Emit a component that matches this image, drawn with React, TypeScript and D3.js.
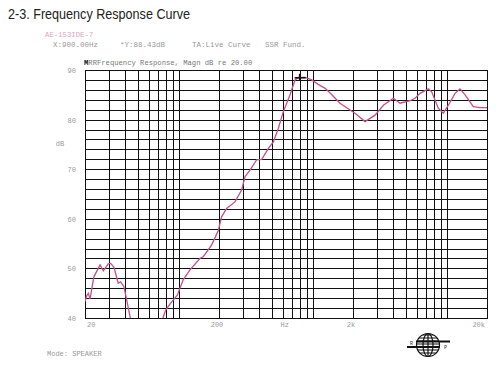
import React from 'react';
import * as d3 from 'd3';

const freqs = [20, 20.6, 21.2, 21.8, 23.3, 25.9, 27.4, 29.8, 31.1, 32.9, 35.4, 36.9, 39.1, 43.9, 52,
  64, 75.5, 80, 87.2, 97.7, 108, 121.5, 144, 153, 176, 198, 209, 228, 263, 295, 313, 341, 382, 417, 467,
  509, 554, 604, 678, 739, 782, 877, 984, 1100, 1240, 1390, 1600, 1795, 2070, 2460, 2920, 3370, 4000,
  4490, 5330, 5810, 6330, 7300, 7730, 8660, 9440, 10300, 11550, 12580, 13720, 15810, 17740, 20000];
const levels = [43.3, 44.5, 45, 43.8, 48.3, 50.7, 49.5, 50.9, 51, 50.2, 47, 47.3, 46.3, 39.6, 36,
  36, 39.6, 41.6, 43, 44.6, 47.7, 49.7, 52, 52.4, 54.7, 57.7, 60.4, 62.1, 63.4, 65.8, 68.5, 69.8, 71.9, 72, 74.2,
  75.5, 78.2, 81.6, 85, 88, 88.5, 88.5, 88, 87.1, 86.3, 85, 83.3, 82.4, 81.3, 79.6, 80.9, 82.9, 84.3,
  83.3, 83.8, 84.3, 85.3, 86.2, 85.6, 82.3, 81.3, 82.9, 85.3, 86.2, 85, 82.6, 82.4, 82.4];

const yTicks = [90, 80, 70, 60, 50, 40];
const xTickLabels = ['20', '200', 'Hz', '2k', '20k'];
const xTickFreqs = [20, 200, 640, 2000, 20000];
const cursor = { f: 800, db: 88.43 };

const mono = '"Liberation Mono", "DejaVu Sans Mono", monospace';

export default function App() {
  const x = d3.scaleLog().domain([20, 20000]).range([85, 487]);
  const y = d3.scaleLinear().domain([40, 90]).range([318, 70]);

  const gridF: number[] = [];
  [10, 100, 1000].forEach(d => {
    for (let m = 2; m <= 10; m++) gridF.push(d * m);
  });
  const gridDb = d3.range(40, 91, 2);
  const px = (v: number) => Math.round(v) + 0.5;

  const pts = freqs.map((f, i) => [f, levels[i]] as [number, number]);
  const line = d3.line<[number, number]>()
    .x(d => x(d[0]))
    .y(d => y(d[1]))
    .curve(d3.curveLinear);

  const cx = x(cursor.f), cy = y(cursor.db);
  const logo = { x: 428, y: 345, r: 11.5 };

  return (
    <svg width={500} height={367} style={{ position: 'absolute', left: 0, top: 0, background: '#fff' }}>
      <defs>
        <clipPath id="plot">
          <rect x={85} y={70} width={402} height={248} />
        </clipPath>
        <clipPath id="globe">
          <circle cx={logo.x} cy={logo.y} r={logo.r} />
        </clipPath>
      </defs>

      <text x={8} y={19} fontFamily="'Liberation Sans', Arial, sans-serif" fontSize={14.5}
        textLength={182} lengthAdjust="spacingAndGlyphs" fill="#222">2-3. Frequency Response Curve</text>

      <text x={45} y={37} fontFamily={mono} fontSize={7.3} fill="#d9a7bb">AE-153IDE-7</text>
      <g fontFamily={mono} fontSize={7.5} fill="#999">
        <text x={53} y={47}>X:900.00Hz</text>
        <text x={120} y={47}>*Y:88.43dB</text>
        <text x={192} y={47}>TA:Live Curve</text>
        <text x={265} y={47}>SSR Fund.</text>
      </g>
      <text x={84} y={65} fontFamily={mono} fontSize={7.2} fill="#777">
        <tspan fontWeight="bold" fill="#111">M</tspan>RRFrequency Response, Magn dB re 20.00
      </text>

      {gridDb.map(d => (
        <line key={'h' + d} x1={85} x2={487} y1={px(y(d))} y2={px(y(d))} stroke="#111" strokeWidth={1} />
      ))}
      {gridF.map(f => (
        <line key={'v' + f} x1={px(x(f))} x2={px(x(f))} y1={70} y2={318} stroke="#111" strokeWidth={1} />
      ))}
      <rect x={px(85)} y={px(70)} width={402} height={248} fill="none" stroke="#111" strokeWidth={1} />

      <path d={line(pts) || ''} fill="none" stroke="#c4508c" strokeWidth={1.3} clipPath="url(#plot)" />

      <g stroke="#111" strokeWidth={1.6}>
        <line x1={cx - 5} x2={cx + 6} y1={cy} y2={cy} />
        <line x1={cx} x2={cx} y1={cy - 4} y2={cy + 3} />
      </g>

      <g fontFamily={mono} fontSize={7} fill="#999">
        {yTicks.map(t => (
          <text key={t} x={76} y={y(t) + 3} textAnchor="end">{t}</text>
        ))}
        <text x={60} y={y(75) + 2} textAnchor="middle">dB</text>
        {xTickLabels.map((l, i) => {
          const anchor = i === 0 ? 'start' : i === xTickLabels.length - 1 ? 'end' : 'middle';
          const off = i === 0 ? 2 : i === xTickLabels.length - 1 ? -2 : -2;
          return <text key={l} x={x(xTickFreqs[i]) + off} y={327} textAnchor={anchor}>{l}</text>;
        })}
        <text x={47} y={356}>Mode: SPEAKER</text>
      </g>

      <g>
        <circle cx={logo.x} cy={logo.y} r={logo.r} fill="#fff" stroke="#111" strokeWidth={1.2} />
        <g clipPath="url(#globe)" stroke="#111" strokeWidth={1.2}>
          {d3.range(-10, 11, 3).map(o => (
            <line key={'s' + o} x1={logo.x - 12} x2={logo.x + 12} y1={logo.y + o} y2={logo.y + o} />
          ))}
          <ellipse cx={logo.x} cy={logo.y} rx={5} ry={logo.r} fill="none" />
          <line x1={logo.x} x2={logo.x} y1={logo.y - 12} y2={logo.y + 12} />
        </g>
        <line x1={416} x2={450} y1={341.5} y2={341.5} stroke="#111" strokeWidth={2} />
        <line x1={407} x2={440} y1={347} y2={347} stroke="#111" strokeWidth={2} />
        <text x={410} y={345} fontFamily={mono} fontSize={5} fill="#333">R</text>
        <text x={444} y={349} fontFamily={mono} fontSize={5} fill="#333">P</text>
      </g>
    </svg>
  );
}
